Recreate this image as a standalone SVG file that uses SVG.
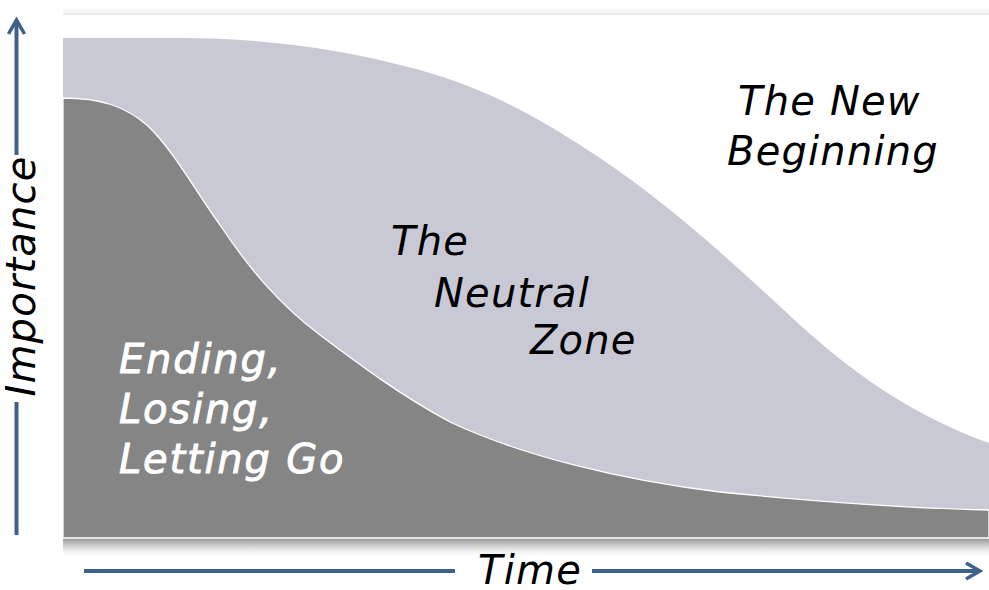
<svg xmlns="http://www.w3.org/2000/svg" width="989" height="590" viewBox="0 0 989 590">
<defs>
<linearGradient id="sh" x1="0" y1="0" x2="0" y2="1">
<stop offset="0" stop-color="#7a7a7a" stop-opacity="0.85"/>
<stop offset="0.5" stop-color="#b5b5b5" stop-opacity="0.45"/>
<stop offset="1" stop-color="#ffffff" stop-opacity="0"/>
</linearGradient>
<linearGradient id="tsh" x1="0" y1="0" x2="0" y2="1">
<stop offset="0" stop-color="#ffffff" stop-opacity="0"/>
<stop offset="1" stop-color="#e6e6e6" stop-opacity="1"/>
</linearGradient>
<marker id="ah" viewBox="0 0 20 20" refX="17" refY="10" markerWidth="20" markerHeight="20" markerUnits="userSpaceOnUse" orient="auto">
<path d="M3,2 L17,10 L3,18" fill="none" stroke="#3e6089" stroke-width="3.5" stroke-linejoin="miter"/>
</marker>
<style>
.ax{stroke:#3e6089;stroke-width:4;fill:none}
.lbl{font-family:"DejaVu Sans","Verdana",sans-serif;font-style:italic;font-size:40px;letter-spacing:1.2px}
.dk{fill:#000}
.wt{fill:#fff;stroke:#fff;stroke-width:0.9;letter-spacing:1.8px}
</style>
</defs>
<rect width="989" height="590" fill="#fff"/>
<g id="chart">
<rect x="63" y="6" width="926" height="9" fill="url(#tsh)"/>
<rect x="63" y="538" width="926" height="20" fill="url(#sh)"/>
<rect x="63" y="15" width="926" height="523" fill="#fff"/>
<path id="neutral" d="M63,38 L180,38 C260,38 340,48 420,70 C490,90 540,118 600,158 C680,212 740,270 800,325 C850,370 910,415 989,443 L989,538 L63,538 Z" fill="#c8c9d5"/>
<path id="ending" d="M63,98 C100,98 125,106 148,126 C173,150 195,190 220,225 C250,270 280,305 320,335 C360,365 400,395 450,422 C520,455 620,480 720,492 C820,502 900,508 989,510 L989,538 L63,538 Z" fill="#858585" stroke="#ffffff" stroke-width="1.3"/>
</g>
<g id="connectors">
<line class="ax" x1="16.5" y1="155" x2="16.5" y2="20" marker-end="url(#ah)"/>
<line class="ax" x1="16.5" y1="402" x2="16.5" y2="535"/>
<line class="ax" x1="84" y1="571" x2="455" y2="571"/>
<line class="ax" x1="592" y1="571" x2="980" y2="571" marker-end="url(#ah)"/>
</g>
<g id="axis-labels">
<text class="lbl dk" transform="translate(35,276) rotate(-90)" text-anchor="middle" font-size="37" style="letter-spacing:1.2px">Importance</text>
<text class="lbl dk" x="530" y="584" text-anchor="middle" font-size="38">Time</text>
</g>
<g id="new-beginning">
<text class="lbl dk" x="738" y="115">The New</text>
<text class="lbl dk" x="727" y="165">Beginning</text>
</g>
<g id="neutral-zone">
<text class="lbl dk" x="391" y="255">The</text>
<text class="lbl dk" x="434" y="307">Neutral</text>
<text class="lbl dk" x="530" y="354">Zone</text>
</g>
<g id="ending-label">
<text class="lbl wt" x="119" y="373">Ending,</text>
<text class="lbl wt" x="119" y="423">Losing,</text>
<text class="lbl wt" x="119" y="473">Letting Go</text>
</g>
</svg>
